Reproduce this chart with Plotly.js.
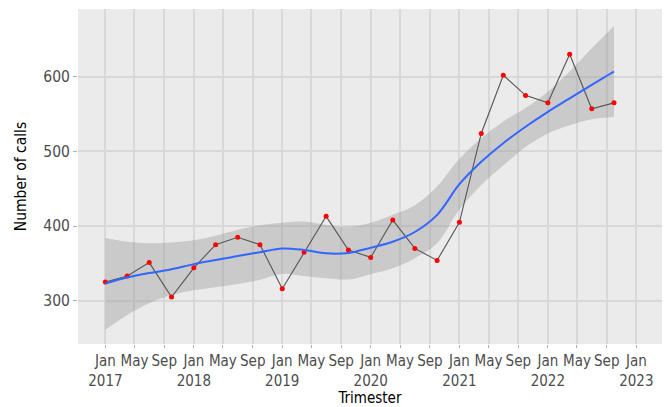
<!DOCTYPE html>
<html>
<head>
<meta charset="utf-8">
<script src="https://cdn.plot.ly/plotly-3.0.1.min.js"></script>
<style>
html,body{margin:0;padding:0;background:#fff;}
#chart{width:664px;height:407px;}
#chart svg text{font-stretch:condensed !important;}
</style>
</head>
<body>
<div id="chart"></div>
<script>
// Quarterly observations
const quarters = ['2017-01-01','2017-04-01','2017-07-01','2017-10-01',
                  '2018-01-01','2018-04-01','2018-07-01','2018-10-01',
                  '2019-01-01','2019-04-01','2019-07-01','2019-10-01',
                  '2020-01-01','2020-04-01','2020-07-01','2020-10-01',
                  '2021-01-01','2021-04-01','2021-07-01','2021-10-01',
                  '2022-01-01','2022-04-01','2022-07-01','2022-10-01'];
const calls = [325, 333, 351, 305, 344, 375, 385, 375,
               316, 365, 413, 368, 358, 408, 370, 354,
               405, 524, 602, 575, 565, 630, 557, 565];
// Smoothed trend and its confidence band, read at the same quarters
const smoothFit = [323, 331, 337, 342, 349, 354.5, 360, 365,
                   370, 368, 363.5, 364, 371, 379, 392, 415,
                   456, 486, 511, 533, 553, 571, 589, 607];
const bandUpper = [384, 379, 377, 378, 381, 387, 395, 401,
                   404.5, 406, 401.5, 399, 404.5, 415, 428, 453,
                   490, 517.5, 540, 558, 580, 607, 638, 668];
const bandLower = [261, 281, 296.5, 307.5, 314, 318, 322.5, 328,
                   336, 333, 330, 328.5, 335.5, 343.5, 357, 377,
                   422, 455, 481, 506, 524, 535, 543, 546];
// Axis ticks
const tickDates = ['2017-01-01','2017-05-01','2017-09-01','2018-01-01','2018-05-01','2018-09-01',
                   '2019-01-01','2019-05-01','2019-09-01','2020-01-01','2020-05-01','2020-09-01',
                   '2021-01-01','2021-05-01','2021-09-01','2022-01-01','2022-05-01','2022-09-01','2023-01-01'];
const tickLabels = ['Jan<br>2017','May','Sep','Jan<br>2018','May','Sep',
                    'Jan<br>2019','May','Sep','Jan<br>2020','May','Sep',
                    'Jan<br>2021','May','Sep','Jan<br>2022','May','Sep','Jan<br>2023'];
const yTicks = [300, 400, 500, 600];

const FONT = '"DejaVu Sans Condensed","DejaVu Sans",sans-serif';
const FS = 15.5;
const XFS = 15;

const traces = [
  {x: quarters, y: bandUpper, type: 'scatter', mode: 'lines',
   line: {width: 0, shape: 'spline', smoothing: 1}, hoverinfo: 'skip'},
  {x: quarters, y: bandLower, type: 'scatter', mode: 'lines', fill: 'tonexty',
   fillcolor: 'rgba(153,153,153,0.4)',
   line: {width: 0, shape: 'spline', smoothing: 1}, hoverinfo: 'skip'},
  {x: quarters, y: calls, type: 'scatter', mode: 'lines+markers',
   line: {color: '#555555', width: 1.1},
   marker: {color: '#FF0000', size: 5}},
  {x: quarters, y: smoothFit, type: 'scatter', mode: 'lines',
   line: {color: '#3366FF', width: 2, shape: 'spline', smoothing: 1}}
];

const layout = {
  width: 664, height: 407,
  margin: {l: 78, r: 2, t: 9, b: 63},
  paper_bgcolor: '#FFFFFF',
  plot_bgcolor: '#EBEBEB',
  showlegend: false,
  hovermode: false,
  font: {family: FONT, size: FS, color: '#4D4D4D'},
  xaxis: {
    type: 'date',
    range: ['2016-09-10', '2023-04-17'],
    tickmode: 'array', tickvals: tickDates, ticktext: tickLabels,
    tickangle: 0,
    tickfont: {family: FONT, size: XFS, color: '#4D4D4D'},
    ticks: 'outside', ticklen: 3, tickcolor: '#B0B0B0', tickwidth: 1,
    showgrid: true, gridcolor: '#D8D8D8', gridwidth: 2,
    zeroline: false, showline: false,
    title: {text: 'Trimester', font: {family: FONT, size: XFS, color: '#000000'}, standoff: 3}
  },
  yaxis: {
    range: [242, 690.7],
    tickmode: 'array', tickvals: yTicks,
    tickfont: {family: FONT, size: FS, color: '#4D4D4D'},
    ticks: 'outside', ticklen: 4, tickcolor: '#B0B0B0', tickwidth: 1,
    showgrid: true, gridcolor: '#D8D8D8', gridwidth: 2,
    zeroline: false, showline: false,
    title: {text: 'Number of calls', font: {family: FONT, size: FS, color: '#000000'}, standoff: 12}
  }
};

Plotly.newPlot('chart', traces, layout, {displayModeBar: false, staticPlot: true});
</script>
</body>
</html>
